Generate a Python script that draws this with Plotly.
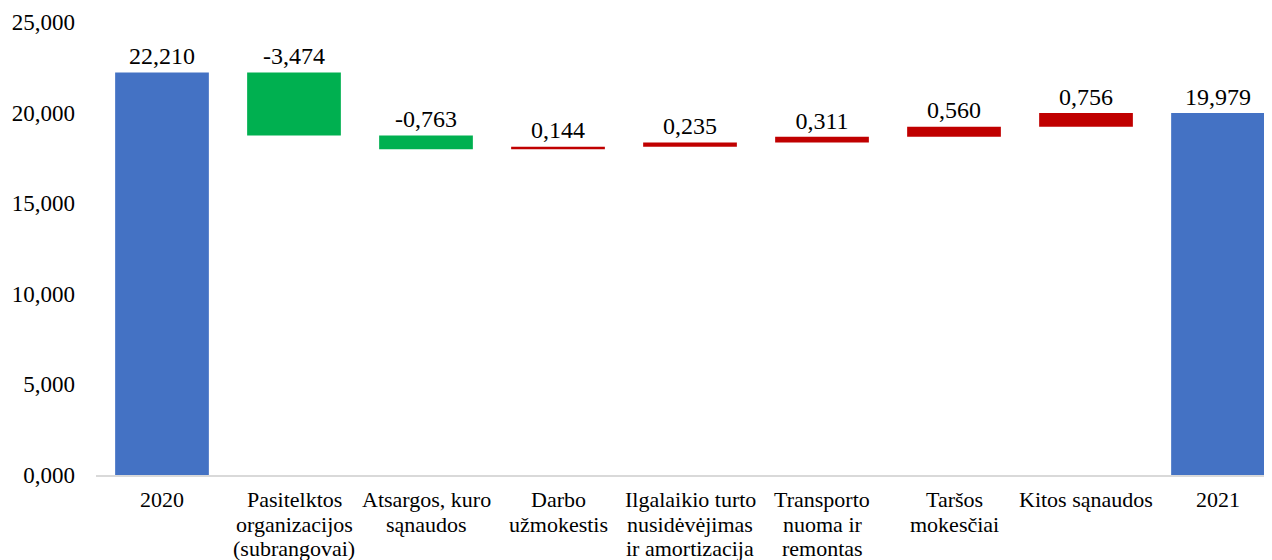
import plotly.graph_objects as go

categories = ["2020", "Pasitelktos<br>organizacijos<br>(subrangovai)", "Atsargos, kuro<br>sąnaudos",
              "Darbo<br>užmokestis", "Ilgalaikio turto<br>nusidėvėjimas<br>ir amortizacija",
              "Transporto<br>nuoma ir<br>remontas", "Taršos<br>mokesčiai", "Kitos sąnaudos", "2021"]
values = [22.210, -3.474, -0.763, 0.144, 0.235, 0.311, 0.560, 0.756, 19.979]
measures = ["absolute", "relative", "relative", "relative", "relative", "relative", "relative", "relative", "total"]
ytick_vals = [0, 5, 10, 15, 20, 25]

FONT = "Liberation Serif"

# compute label positions (top of each bar) from data
tops = []
run = 0.0
for v, m in zip(values, measures):
    if m == "absolute":
        run = v
        tops.append(v)
    elif m == "total":
        tops.append(run)
    else:
        prev = run
        run = run + v
        tops.append(max(prev, run))

def fmt(v):
    return f"{v:.3f}".replace(".", ",")

xs = list(range(len(categories)))

fig = go.Figure()
fig.add_trace(go.Waterfall(
    x=xs, y=values, measure=measures,
    width=0.71,
    increasing=dict(marker=dict(color="#C00000")),
    decreasing=dict(marker=dict(color="#00B050")),
    totals=dict(marker=dict(color="#4472C4")),
    connector=dict(visible=False),
    showlegend=False, hoverinfo="skip",
))
fig.add_trace(go.Scatter(
    x=xs, y=tops, mode="markers+text", text=[fmt(v) for v in values],
    marker=dict(size=2, opacity=0),
    textposition="top center", textfont=dict(family=FONT, size=24, color="#000000"),
    showlegend=False, hoverinfo="skip", cliponaxis=False,
))

# category labels, one annotation per line for tight line spacing
for i, c in enumerate(categories):
    for j, line in enumerate(c.split("<br>")):
        fig.add_annotation(x=i, y=0, xref="x", yref="y", text=line, showarrow=False,
                           yanchor="top", xanchor="center", yshift=-10 - 24.5 * j,
                           font=dict(family=FONT, size=22, color="#000000"))

fig.update_layout(
    width=1264, height=552,
    margin=dict(l=88, r=0, t=14, b=85, autoexpand=False),
    plot_bgcolor="white", paper_bgcolor="white",
    separators=",.",
    font=dict(family=FONT, size=22, color="#000000"),
    xaxis=dict(range=[-0.5, 8.409], showticklabels=False, showgrid=False, zeroline=False,
               showline=True, linecolor="#D9D9D9", linewidth=2, ticks="", automargin=False),
    yaxis=dict(range=[0, 25], tickvals=ytick_vals, tickformat=".3f", showgrid=False,
               zeroline=False, showline=False, ticks="", ticklabelstandoff=20, automargin=False,
               tickfont=dict(family=FONT, size=23, color="#000000")),
)

fig.write_html("out.html")
